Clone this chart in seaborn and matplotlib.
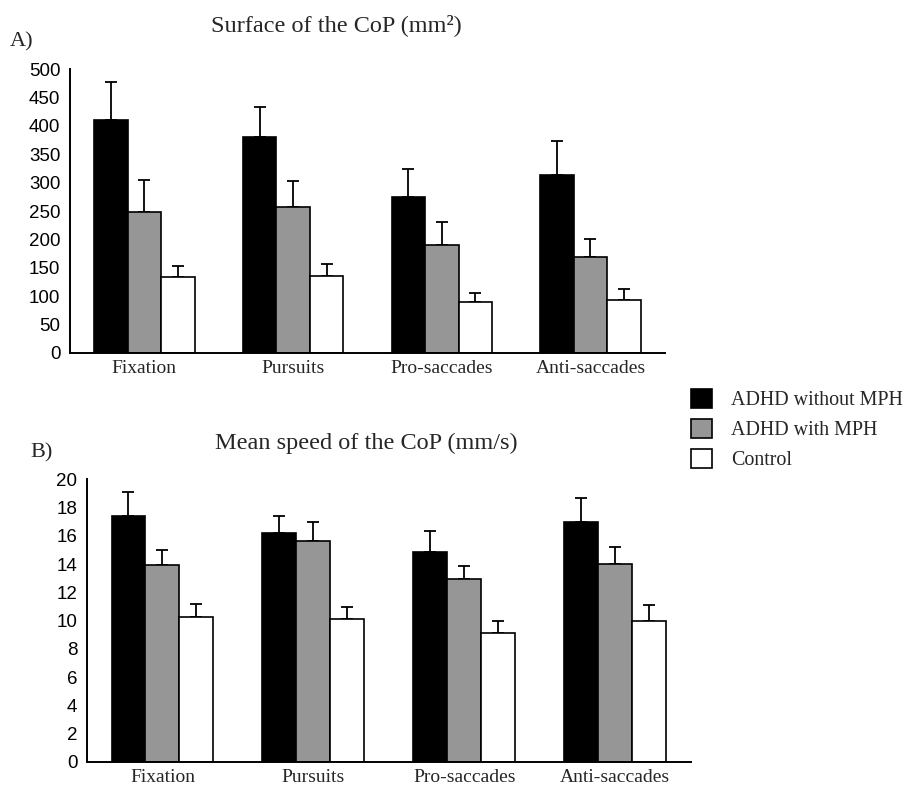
import numpy as np
import pandas as pd
import seaborn as sns
from matplotlib import pyplot as plt
from matplotlib.patches import Patch

tasks = ["Fixation", "Pursuits", "Pro-saccades", "Anti-saccades"]
groups = ["ADHD without MPH", "ADHD with MPH", "Control"]
colors = ["#000000", "#969696", "#ffffff"]

# Panel A: surface of the CoP (mm2)
surface_without = [411, 381, 275, 314]
surface_without_err = [67, 52, 50, 59]
surface_with = [248, 258, 190, 170]
surface_with_err = [57, 45, 41.5, 30]
surface_control = [134, 135, 90.5, 93]
surface_control_err = [19, 21, 15.5, 19]

# Panel B: mean speed of the CoP (mm/s)
speed_without = [17.4, 16.2, 14.85, 16.95]
speed_without_err = [1.7, 1.2, 1.5, 1.7]
speed_with = [13.9, 15.65, 12.95, 14.0]
speed_with_err = [1.1, 1.3, 0.9, 1.2]
speed_control = [10.25, 10.1, 9.15, 10.0]
speed_control_err = [0.9, 0.85, 0.8, 1.1]

SERIF = ["Liberation Serif", "DejaVu Serif"]
SANS = ["Liberation Sans", "DejaVu Sans"]


def to_frame(means: list[list[float]], errs: list[list[float]]) -> pd.DataFrame:
    rows = []
    for g, m_list, e_list in zip(groups, means, errs):
        for t, m, e in zip(tasks, m_list, e_list):
            rows.append({"task": t, "group": g, "mean": m, "err": e})
    return pd.DataFrame(rows)


def draw_panel(ax, df: pd.DataFrame, ymax: float, ystep: float) -> None:
    sns.barplot(
        data=df, x="task", y="mean", hue="group",
        order=tasks, hue_order=groups,
        palette=dict(zip(groups, colors)), saturation=1,
        edgecolor="black", linewidth=1.2, width=0.675,
        errorbar=None, legend=False, ax=ax, zorder=2,
    )
    for container, g in zip(ax.containers, groups):
        sub = df[df["group"] == g].set_index("task").loc[tasks]
        xs = [bar.get_x() + bar.get_width() / 2 for bar in container]
        ax.errorbar(
            xs, sub["mean"], yerr=[np.zeros(len(xs)), sub["err"]],
            fmt="none", ecolor="black", elinewidth=1.3, capsize=4.5, capthick=1.3, zorder=1,
        )
    ax.set_xlim(-0.5, 3.5)
    ax.set_ylim(0, ymax)
    ax.set_yticks(np.arange(0, ymax + ystep / 2, ystep))
    ax.set_xlabel("")
    ax.set_ylabel("")
    sns.despine(ax=ax)
    for side in ("left", "bottom"):
        ax.spines[side].set_linewidth(1.4)
        ax.spines[side].set_color("black")
    ax.tick_params(axis="x", length=0, pad=5)
    ax.tick_params(axis="y", length=3.5, width=1.2, pad=3.5, direction="out", colors="black")
    for lbl in ax.get_xticklabels():
        lbl.set_fontfamily(SERIF)
        lbl.set_fontsize(14)
    for lbl in ax.get_yticklabels():
        lbl.set_fontfamily(SANS)
        lbl.set_fontsize(13.5)


sns.set_theme(style="white")
plt.rcParams["font.family"] = SERIF

fig = plt.figure(figsize=(9.07, 7.87), dpi=100)
ax_a = fig.add_axes([0.0772, 0.5515, 0.6558, 0.3605])
ax_b = fig.add_axes([0.0959, 0.0321, 0.6656, 0.3589])

surface_df = to_frame([surface_without, surface_with, surface_control],
                      [surface_without_err, surface_with_err, surface_control_err])
speed_df = to_frame([speed_without, speed_with, speed_control],
                    [speed_without_err, speed_with_err, speed_control_err])

draw_panel(ax_a, surface_df, 500, 50)
draw_panel(ax_b, speed_df, 20, 2)

fig.text(336 / 907, 1 - 25 / 787, "Surface of the CoP (mm²)", ha="center", va="center",
         fontsize=17.5, family=SERIF)
fig.text(366 / 907, 1 - 443 / 787, "Mean speed of the CoP (mm/s)", ha="center", va="center",
         fontsize=17.5, family=SERIF)
fig.text(10 / 907, 1 - 42 / 787, "A)", ha="left", va="center", fontsize=16, family=SERIF)
fig.text(30 / 907, 1 - 453 / 787, "B)", ha="left", va="center", fontsize=16, family=SERIF)

handles = [Patch(facecolor=c, edgecolor="black", linewidth=1.2) for c in colors]
fig.legend(
    handles, groups, loc="upper left", bbox_to_anchor=(691 / 907, 1 - 389 / 787),
    frameon=False, handlelength=1.05, handleheight=1.05,
    handletextpad=0.95, labelspacing=0.45, borderpad=0, borderaxespad=0,
    prop={"family": SERIF, "size": 14.4},
)

fig.savefig("out.png", dpi=100)
plt.close(fig)
